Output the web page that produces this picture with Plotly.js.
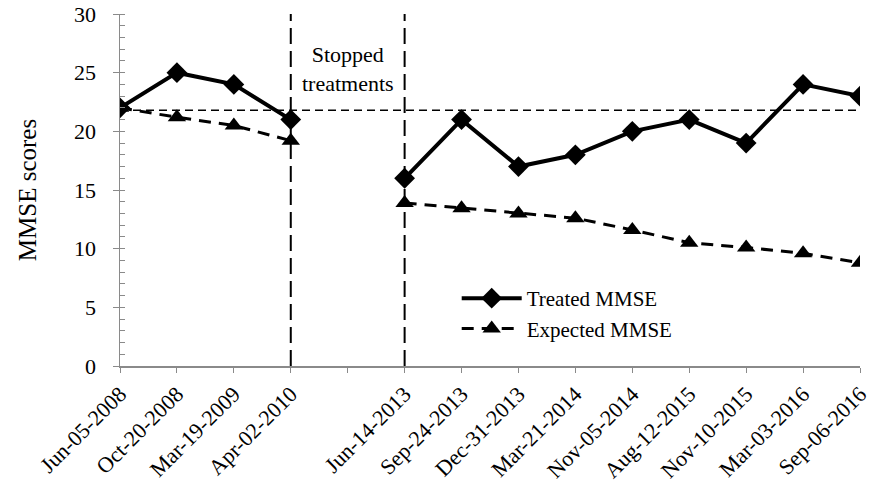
<!DOCTYPE html>
<html>
<head>
<meta charset="utf-8">
<script src="https://cdn.plot.ly/plotly-3.0.1.min.js"></script>
<style>html,body{margin:0;padding:0;background:#fff;}#chart{width:878px;height:482px;}</style>
</head>
<body>
<div id="chart"></div>
<script>
// Categories (a blank slot marks the gap in treatment)
var categories = ["Jun-05-2008","Oct-20-2008","Mar-19-2009","Apr-02-2010"," ",
  "Jun-14-2013","Sep-24-2013","Dec-31-2013","Mar-21-2014","Nov-05-2014",
  "Aug-12-2015","Nov-10-2015","Mar-03-2016","Sep-06-2016"];
var treatedMMSE = [22, 25, 24, 21, null, 16, 21, 17, 18, 20, 21, 19, 24, 23];
var expectedMMSE = [22, 21.2, 20.5, 19.2, null, 13.9, 13.45, 13.0, 12.6, 11.6, 10.5, 10.1, 9.6, 8.8];
var baselineMMSE = 21.8;
var stopStart = "Apr-02-2010";
var stopEnd = "Jun-14-2013";
var yTicks = [0, 5, 10, 15, 20, 25, 30];

var serif = "Liberation Serif, Times New Roman, serif";

var traces = [
  {
    x: categories, y: treatedMMSE, name: "Treated MMSE", type: "scatter", mode: "lines+markers",
    connectgaps: false,
    line: {color: "#000", width: 4},
    marker: {symbol: "diamond", size: 16, color: "#000"}
  },
  {
    x: categories, y: expectedMMSE, name: "Expected MMSE", type: "scatter", mode: "lines+markers",
    connectgaps: false,
    line: {color: "#000", width: 3, dash: "12px,8px"},
    marker: {symbol: "triangle-up", size: 16, color: "#000"}
  }
];

var layout = {
  width: 878, height: 482,
  margin: {l: 120, r: 18, t: 14, b: 116},
  paper_bgcolor: "#fff", plot_bgcolor: "#fff",
  font: {family: serif, color: "#000", size: 22},
  showlegend: true,
  legend: {
    x: 0.455, y: 0.25, xanchor: "left", yanchor: "top",
    bgcolor: "rgba(0,0,0,0)", font: {family: serif, size: 21, color: "#000"},
    itemwidth: 60, tracegroupgap: 0
  },
  xaxis: {
    type: "category", categoryorder: "array", categoryarray: categories,
    range: [0, categories.length - 1],
    showgrid: false, zeroline: false,
    showline: true, linecolor: "#8a8a8a", linewidth: 1.5,
    ticks: "outside", ticklen: 5, tickcolor: "#8a8a8a", tickwidth: 1,
    tickangle: -45, tickfont: {family: serif, size: 22, color: "#000"}
  },
  yaxis: {
    range: [0, 30], tickvals: yTicks,
    showgrid: false, zeroline: false,
    showline: true, linecolor: "#8a8a8a", linewidth: 1.5,
    ticks: "outside", ticklen: 6, tickcolor: "#8a8a8a", tickwidth: 1,
    ticklabelstandoff: 12,
    tickfont: {family: serif, size: 22, color: "#000"},
    minor: {dtick: 1, ticks: "inside", ticklen: 5, tickcolor: "#8a8a8a", tickwidth: 1, showgrid: false},
    title: {text: "MMSE scores", font: {family: serif, size: 25, color: "#000"}, standoff: 30}
  },
  shapes: [
    {type: "line", xref: "x", yref: "paper", x0: stopStart, x1: stopStart, y0: 0, y1: 1,
     line: {color: "#000", width: 2, dash: "16px,7px"}},
    {type: "line", xref: "x", yref: "paper", x0: stopEnd, x1: stopEnd, y0: 0, y1: 1,
     line: {color: "#000", width: 2, dash: "16px,7px"}},
    {type: "line", xref: "paper", yref: "y", x0: 0, x1: 1, y0: baselineMMSE, y1: baselineMMSE,
     line: {color: "#000", width: 1.5, dash: "8px,5px"}}
  ],
  annotations: [
    {xref: "x", yref: "y", x: " ", y: 25.3, text: "Stopped<br>treatments", showarrow: false,
     font: {family: serif, size: 22, color: "#000"}, align: "center"}
  ]
};

Plotly.newPlot("chart", traces, layout, {displayModeBar: false, staticPlot: true});
</script>
</body>
</html>
